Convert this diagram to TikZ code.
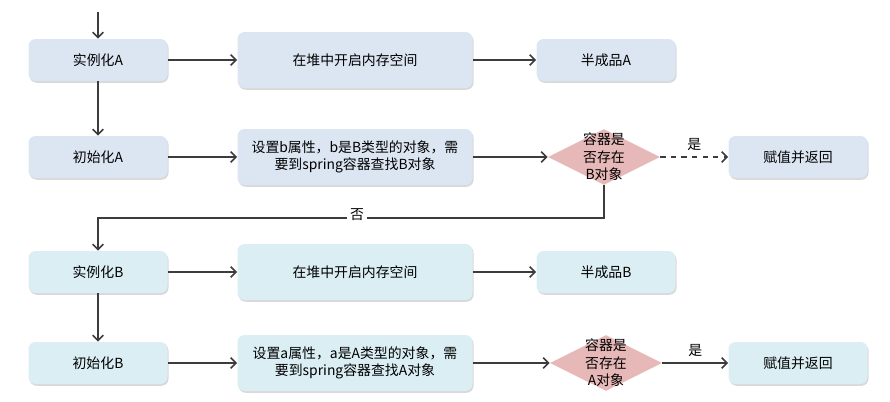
\documentclass[tikz,border=0pt]{standalone}
\usepackage{fontspec}
\setmainfont{Noto Sans CJK SC}
\usetikzlibrary{shapes.geometric, shadows, arrows.meta}
\definecolor{boxA}{HTML}{DCE6F2}
\definecolor{boxB}{HTML}{DAEEF4}
\definecolor{decide}{HTML}{E6B9B8}
\definecolor{linec}{HTML}{3C3C3C}
\tikzset{
  base/.style={rounded corners=4pt, font=\fontsize{7.9}{10}\selectfont,
    drop shadow={shadow xshift=0.6pt, shadow yshift=-1pt, opacity=0.3}},
  smallbox/.style={base, minimum width=2.78cm, minimum height=0.84cm},
  bigbox/.style={base, minimum width=4.7cm, minimum height=1.12cm, align=center},
  checkbox/.style={diamond, fill=decide, minimum width=2.24cm, minimum height=1.12cm, inner sep=0pt},
  checktext/.style={align=center, font=\fontsize{7.9}{10}\selectfont},
  flow/.style={draw=linec, line width=0.9pt, -{Straight Barb[length=3pt, width=6pt]}},
}
\begin{document}
\begin{tikzpicture}
    \useasboundingbox (0, 0) rectangle (17.8, -8.02);

    % A
    \coordinate (start) at (1.96, -0.24);
    \node[smallbox, fill=boxA] (instA) at (1.96, -1.2) {实例化A};
    \node[bigbox, fill=boxA] (heapA) at (7.1, -1.2) {在堆中开启内存空间};
    \node[smallbox, fill=boxA] (halfA) at (12.12, -1.2) {半成品A};
    \node[smallbox, fill=boxA] (initA) at (1.96, -3.14) {初始化A};
    \node[bigbox, fill=boxA] (setB) at (7.1, -3.14) {设置b属性，b是B类型的对象，需\\要到spring容器查找B对象};
    \node[checkbox] (checkB) at (12.08, -3.14) {};
    \node[checktext] at (checkB) {容器是\\否存在\\B对象};
    \node[smallbox, fill=boxA] (retA) at (15.96, -3.14) {赋值并返回};

    % B
    \node[smallbox, fill=boxB] (instB) at (1.96, -5.44) {实例化B};
    \node[bigbox, fill=boxB] (heapB) at (7.1, -5.44) {在堆中开启内存空间};
    \node[smallbox, fill=boxB] (halfB) at (12.12, -5.44) {半成品B};
    \node[smallbox, fill=boxB] (initB) at (1.96, -7.26) {初始化B};
    \node[bigbox, fill=boxB] (setA) at (7.1, -7.26) {设置a属性，a是A类型的对象，需\\要到spring容器查找A对象};
    \node[checkbox] (checkA) at (12.12, -7.26) {};
    \node[checktext] at (checkA) {容器是\\否存在\\A对象};
    \node[smallbox, fill=boxB] (retB) at (15.96, -7.26) {赋值并返回};

    \draw[flow] (start) -- (instA);
    \draw[flow] (instA) -- (heapA);
    \draw[flow] (heapA) -- (halfA);
    \draw[flow] (instA) -- (initA);
    \draw[flow] (initA) -- (setB);
    \draw[flow] (setB) -- (checkB);
    \draw[flow, dashed] (checkB) -- node[midway, above, font=\fontsize{7.9}{10}\selectfont] {是} (retA);

    \coordinate (noturn) at (1.96, -4.36);
    \draw[flow] (checkB.south) |- (noturn) -- (instB);
    \node[fill=white, inner sep=2pt, font=\fontsize{7.9}{10}\selectfont] (nolabel) at (7.14, -4.3) {否};

    \draw[flow] (instB) -- (heapB);
    \draw[flow] (heapB) -- (halfB);
    \draw[flow] (instB) -- (initB);
    \draw[flow] (initB) -- (setA);
    \draw[flow] (setA) -- (checkA);
    \draw[flow] (checkA) -- node[midway, above, font=\fontsize{7.9}{10}\selectfont] {是} (retB);
\end{tikzpicture}
\end{document}
